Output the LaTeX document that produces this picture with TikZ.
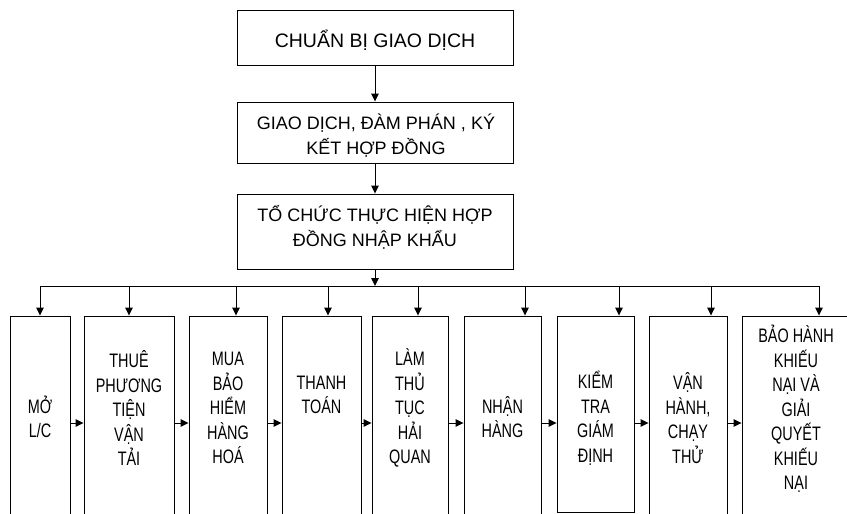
\documentclass[tikz,border=0pt]{standalone}
\usepackage{fontspec}
\setmainfont{Liberation Sans}
\newfontfamily\narrowfont[FakeStretch=0.74]{Liberation Sans}
\usetikzlibrary{arrows.meta}
\tikzset{
  ln/.style={line width=0.9pt, draw=black},
  arr/.style={ln, -{Triangle[length=8pt,width=7.5pt]}},
  topbox/.style={ln, rectangle, minimum width=276pt, inner sep=0pt},
  botbox/.style={ln, rectangle, inner sep=0pt},
  toptxt/.style={align=center, inner sep=0pt, font=\fontsize{19.5}{25}\selectfont},
  toptxtb/.style={align=center, inner sep=0pt, font=\fontsize{18}{25}\selectfont},
  bottxt/.style={align=center, inner sep=0pt, font=\narrowfont\fontsize{19.5}{24.5}\selectfont},
}
\begin{document}
\begin{tikzpicture}[x=1pt,y=-1pt]
\useasboundingbox (0,0) rectangle (847,514);
\clip (0,0) rectangle (847,514);
% top boxes
\node[topbox, minimum height=55pt] (A) at (375,37.5) {};
\node[topbox, minimum height=61pt] (B) at (375,132.5) {};
\node[topbox, minimum height=75pt] (C) at (375,231.5) {};
\node[toptxt] (tA) at (375,40) {CHUẨN BỊ GIAO DỊCH};
\node[toptxtb] (tB) at (376,136) {GIAO DỊCH, ĐÀM PHÁN , KÝ\\KẾT HỢP ĐỒNG};
\node[toptxtb] (tC) at (375,227) {TỔ CHỨC THỰC HIỆN HỢP\\ĐỒNG NHẬP KHẨU};
\draw[arr] (A.south) -- (B.north);
\draw[arr] (B.south) -- (C.north);
% bottom boxes
\node[botbox, minimum width=60pt, minimum height=214pt] (b1) at (40,423) {};
\node[botbox, minimum width=90pt, minimum height=214pt] (b2) at (129,423) {};
\node[botbox, minimum width=78pt, minimum height=214pt] (b3) at (228,423) {};
\node[botbox, minimum width=79pt, minimum height=214pt] (b4) at (321.5,423) {};
\node[botbox, minimum width=76pt, minimum height=214pt] (b5) at (410,423) {};
\node[botbox, minimum width=77pt, minimum height=214pt] (b6) at (502.5,423) {};
\node[botbox, minimum width=77pt, minimum height=196pt] (b7) at (595.5,414) {};
\node[botbox, minimum width=78pt, minimum height=214pt] (b8) at (688,423) {};
\node[botbox, minimum width=108pt, minimum height=214pt] (b9) at (796,423) {};
% texts
\node[bottxt] (t1) at (40,417) {MỞ\\L/C};
\node[bottxt] (t2) at (129,408) {THUÊ\\PHƯƠNG\\TIỆN\\VẬN\\TẢI};
\node[bottxt] (t3) at (228,408) {MUA\\BẢO\\HIỂM\\HÀNG\\HOÁ};
\node[bottxt] (t4) at (321.5,395) {THANH\\TOÁN};
\node[bottxt] (t5) at (410,408) {LÀM\\THỦ\\TỤC\\HẢI\\QUAN};
\node[bottxt] (t6) at (502.5,417) {NHẬN\\HÀNG};
\node[bottxt] (t7) at (595.5,418) {KIỂM\\TRA\\GIÁM\\ĐỊNH};
\node[bottxt] (t8) at (688,418) {VẬN\\HÀNH,\\CHẠY\\THỬ};
\node[bottxt] (t9) at (796,409) {BẢO HÀNH\\KHIẾU\\NẠI VÀ\\GIẢI\\QUYẾT\\KHIẾU\\NẠI};
% bus
\coordinate (d1) at (40,286);
\coordinate (d2) at (129,286);
\coordinate (d3) at (236,286);
\coordinate (d4) at (328,286);
\coordinate (d5) at (418,286);
\coordinate (d6) at (525,286);
\coordinate (d7) at (619,286);
\coordinate (d8) at (711,286);
\coordinate (d9) at (819,286);
\draw[arr] (C.south) -- (C.south |- d1);
\draw[ln] (d1) -- (d9);
\foreach \i in {1,...,9} {
  \draw[arr] (d\i) -- (d\i |- b\i.north);
}
% horizontal arrows
\draw[arr] (b1.east) -- (b2.west);
\draw[arr] (b2.east) -- (b3.west);
\draw[arr] (b3.east) -- (b4.west);
\draw[arr] (b4.east) -- (b5.west);
\draw[arr] (b5.east) -- (b6.west);
\draw[arr] (b6.east) -- (b6.east -| b7.west);
\draw[arr] (b7.east |- b8.west) -- (b8.west);
\draw[arr] (b8.east) -- (b9.west);
\end{tikzpicture}
\end{document}
